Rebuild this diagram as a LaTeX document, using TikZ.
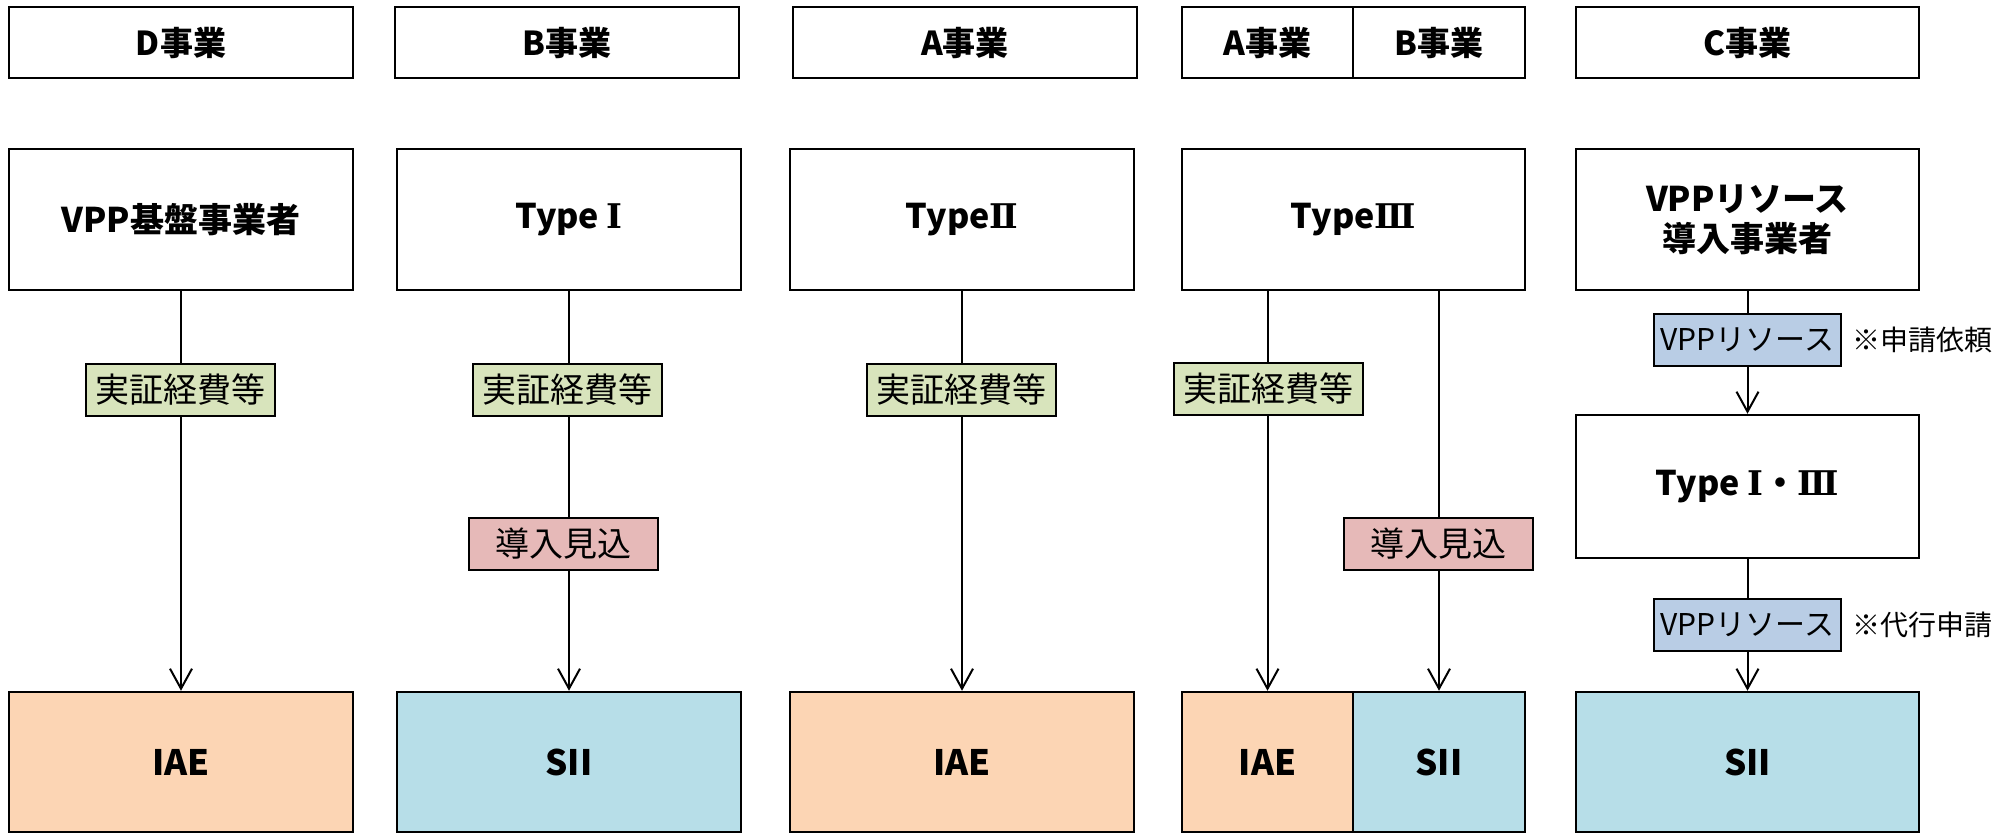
\documentclass[tikz,border=0pt]{standalone}
\usepackage{fontspec}
\setmainfont{Noto Sans CJK JP}
\newfontfamily\romfont{DejaVu Serif}
\newcommand{\rom}[1]{{\romfont #1}}
\usetikzlibrary{arrows.meta}
\definecolor{iaecol}{HTML}{FCD5B4}
\definecolor{siicol}{HTML}{B7DEE8}
\definecolor{costcol}{HTML}{D8E4BC}
\definecolor{plancol}{HTML}{E6B9B8}
\definecolor{rescol}{HTML}{B9CDE5}

\begin{document}
\begin{tikzpicture}[x=1pt, y=-1pt,
	hdr/.style={draw, line width=2.5pt, inner sep=0pt, minimum height=71pt, minimum width=344pt, font=\bfseries\fontsize{33}{38}\selectfont},
	typebox/.style={draw, line width=2.5pt, inner sep=0pt, minimum height=141pt, minimum width=344pt, align=center, font=\bfseries\fontsize{34}{40}\selectfont},
	lower/.style={typebox, minimum height=140pt, font=\bfseries\fontsize{35}{40}\selectfont},
	tag/.style={draw, line width=2pt, inner sep=0pt, minimum width=189pt, minimum height=52pt, font=\fontsize{34}{38}\selectfont},
	note/.style={anchor=west, inner sep=0pt, font=\fontsize{28}{32}\selectfont},
	arr/.style={line width=2pt, -{Straight Barb[length=20pt,width=22pt,line width=2pt]}}]
	\useasboundingbox (0,0) rectangle (2015,834);

	\node [hdr] (hd) at (181,42.5) {D事業};
	\node [hdr] (hb) at (567,42.5) {B事業};
	\node [hdr] (ha) at (965,42.5) {A事業};
	\node [hdr, minimum width=171pt] (ha2) at (1267.5,42.5) {A事業};
	\node [hdr, minimum width=172pt] (hb2) at (1439,42.5) {B事業};
	\node [hdr, minimum width=343pt] (hc) at (1747.5,42.5) {C事業};

	\node [typebox] (vpp) at (181,219.5) {VPP基盤事業者};
	\node [typebox] (t1) at (569,219.5) {Type \rom{Ⅰ}};
	\node [typebox] (t2) at (962,219.5) {Type\rom{Ⅱ}};
	\node [typebox, minimum width=343pt] (t3) at (1353.5,219.5) {Type\rom{Ⅲ}};
	\node [typebox, minimum width=343pt] (rsc) at (1747.5,219.5) {VPPリソース\\導入事業者};
	\node [typebox, minimum width=343pt, minimum height=143pt] (t13) at (1747.5,486.5) {Type \rom{Ⅰ}・\rom{Ⅲ}};

	\node [lower, fill=iaecol] (iae1) at (181,762) {IAE};
	\node [lower, fill=siicol] (sii1) at (569,762) {SII};
	\node [lower, fill=iaecol] (iae2) at (962,762) {IAE};
	\node [lower, fill=iaecol, minimum width=171pt] (iae3) at (1267.5,762) {IAE};
	\node [lower, fill=siicol, minimum width=172pt] (sii3) at (1439,762) {SII};
	\node [lower, fill=siicol, minimum width=343pt] (sii4) at (1747.5,762) {SII};

	\draw [arr] (vpp) -- (iae1);
	\draw [arr] (t1) -- (sii1);
	\draw [arr] (t2) -- (iae2);
	\draw [arr] (iae3 |- t3.south) -- (iae3);
	\draw [arr] (sii3 |- t3.south) -- (sii3);
	\draw [arr] (rsc) -- (t13);
	\draw [arr] (t13) -- (sii4);

	\node [tag, fill=costcol] (c1) at (180.5,390) {実証経費等};
	\node [tag, fill=costcol] (c2) at (567,390) {実証経費等};
	\node [tag, fill=costcol] (c3) at (961.5,390) {実証経費等};
	\node [tag, fill=costcol] (c4) at (1268.5,389) {実証経費等};
	\node [tag, fill=plancol] (p1) at (563.5,543.5) {導入見込};
	\node [tag, fill=plancol] (p2) at (1438.5,543.5) {導入見込};
	\node [tag, fill=rescol, minimum width=187pt, font=\fontsize{30}{34}\selectfont] (r1) at (1747.5,339.5) {VPPリソース};
	\node [tag, fill=rescol, minimum width=187pt, font=\fontsize{30}{34}\selectfont] (r2) at (1747.5,625) {VPPリソース};
	\node [note] (n1) at ([xshift=10pt]r1.east) {※申請依頼};
	\node [note] (n2) at ([xshift=10pt]r2.east) {※代行申請};

\end{tikzpicture}
\end{document}
